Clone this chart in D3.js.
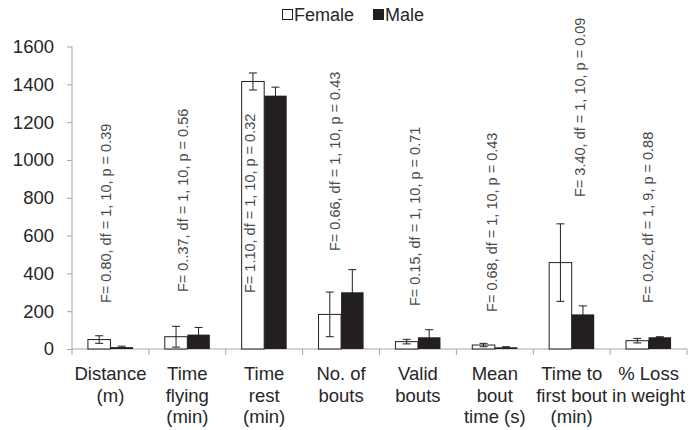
<!DOCTYPE html>
<html>
<head>
<meta charset="utf-8">
<script src="https://cdnjs.cloudflare.com/ajax/libs/d3/7.8.5/d3.min.js"></script>
<style>
  body { margin: 0; background: #fff; }
  svg text { font-family: "Liberation Sans", Arial, sans-serif; fill: #262626; }
</style>
</head>
<body>
<div id="chart"></div>
<script>
// category labels, one entry per line
var categories = [
  ["Distance", "(m)"],
  ["Time", "flying", "(min)"],
  ["Time", "rest", "(min)"],
  ["No. of", "bouts"],
  ["Valid", "bouts"],
  ["Mean", "bout", "time (s)"],
  ["Time to", "first bout", "(min)"],
  ["% Loss", "in weight"]
];
var female = [50, 65, 1415, 183, 39, 21, 457, 44];
var femaleErr = [20, 55, 45, 118, 12, 9, 205, 12];
var male = [10, 76, 1340, 300, 62, 9, 183, 62];
var maleErr = [5, 38, 45, 120, 40, 3, 45, 3];
var yTicks = [0, 200, 400, 600, 800, 1000, 1200, 1400, 1600];
var stats = [
  "F= 0.80, df = 1, 10, p = 0.39",
  "F= 0..37, df = 1, 10, p = 0.56",
  "F= 1.10, df = 1, 10, p = 0.32",
  "F= 0.66, df = 1, 10, p = 0.43",
  "F= 0.15, df = 1, 10, p = 0.71",
  "F= 0.68, df = 1, 10, p = 0.43",
  "F= 3.40, df = 1, 10, p = 0.09",
  "F= 0.02, df = 1, 9, p = 0.88"
];
// where each stats label starts (axis value) and its shift from the group centre
var statStart = [243, 301, 296, 518, 227, 196, 804, 243];
var statShift = [-5, -4, -14, -6, -3, -3, 8, -1];

var width = 697, height = 430;
var margin = {"left": 72, "right": 10, "top": 46.5, "bottom": 81};

var svg = d3.select("#chart").append("svg")
            .attr("width", width)
            .attr("height", height);

var x = d3.scaleBand()
          .domain(d3.range(categories.length))
          .range([margin.left, width - margin.right]);

var y = d3.scaleLinear()
          .domain([0, 1600])
          .range([height - margin.bottom, margin.top]);

var barW = x.bandwidth() * 0.293;

/*
// y axis: grey line, small ticks to the left
*/
var yAxis = d3.axisLeft(y).tickValues(yTicks).tickFormat(d3.format("d"))
              .tickSize(5).tickPadding(13);
var gy = svg.append("g")
            .attr("transform", "translate(" + margin.left + ",0)")
            .call(yAxis);
gy.select(".domain").attr("stroke", "#a6a6a6").attr("d", "M0," + y(1600) + "V" + y(0));
gy.selectAll(".tick line").attr("stroke", "#a6a6a6");
gy.selectAll(".tick text").style("font-size", "18.5px").attr("fill", "#262626");

/*
// x axis: baseline with ticks at the group boundaries
*/
var bounds = d3.range(categories.length + 1).map(function(i) {
  return i < categories.length ? x(i) : x.range()[1];
});
svg.append("line")
   .attr("x1", margin.left).attr("x2", width - margin.right)
   .attr("y1", y(0)).attr("y2", y(0))
   .attr("stroke", "#a6a6a6");
svg.selectAll(".xtick").data(bounds).enter().append("line")
   .attr("class", "xtick")
   .attr("x1", function(d) {return d;}).attr("x2", function(d) {return d;})
   .attr("y1", y(0)).attr("y2", y(0) + 6)
   .attr("stroke", "#a6a6a6");

var labels = svg.selectAll(".xlabel").data(categories).enter().append("text")
                .attr("class", "xlabel")
                .attr("text-anchor", "middle")
                .style("font-size", "18.5px");
labels.each(function(lines, i) {
  var t = d3.select(this);
  lines.forEach(function(s, k) {
    t.append("tspan")
     .attr("x", x(i) + x.bandwidth() / 2)
     .attr("y", y(0) + 31 + k * 21.5)
     .text(s);
  });
});

/*
// bars, female left of centre, male right of centre
*/
var g = svg.append("g");
g.selectAll(".female").data(female).enter().append("rect")
 .attr("class", "female")
 .attr("x", function(d, i) {return x(i) + x.bandwidth() / 2 - barW;})
 .attr("y", function(d) {return y(d);})
 .attr("width", barW)
 .attr("height", function(d) {return y(0) - y(d);})
 .attr("fill", "#fff")
 .attr("stroke", "#231f20")
 .attr("stroke-width", 1);

g.selectAll(".male").data(male).enter().append("rect")
 .attr("class", "male")
 .attr("x", function(d, i) {return x(i) + x.bandwidth() / 2;})
 .attr("y", function(d) {return y(d);})
 .attr("width", barW)
 .attr("height", function(d) {return y(0) - y(d);})
 .attr("fill", "#231f20");

function ErrorBars(vals, errs, dx)
{
  var items = vals.map(function(v, i) {return {i: i, lo: v - errs[i], hi: v + errs[i]};});
  var eb = g.append("g").attr("stroke", "#231f20").attr("stroke-width", 1);
  items.forEach(function(d) {
    var cx = x(d.i) + x.bandwidth() / 2 + dx;
    eb.append("line").attr("x1", cx).attr("x2", cx).attr("y1", y(d.lo)).attr("y2", y(d.hi));
    eb.append("line").attr("x1", cx - 4).attr("x2", cx + 4).attr("y1", y(d.hi)).attr("y2", y(d.hi));
    eb.append("line").attr("x1", cx - 4).attr("x2", cx + 4).attr("y1", y(d.lo)).attr("y2", y(d.lo));
  });
}
ErrorBars(female, femaleErr, -barW / 2);
ErrorBars(male, maleErr, barW / 2);

/*
// vertical test statistics
*/
svg.selectAll(".stat").data(stats).enter().append("text")
   .attr("class", "stat")
   .attr("transform", function(d, i) {
     var cx = x(i) + x.bandwidth() / 2 + statShift[i];
     return "translate(" + cx + "," + y(statStart[i]) + ") rotate(-90)";
   })
   .attr("dy", "0.35em")
   .style("font-size", "14.5px")
   .style("fill", "#4a4a4a")
   .text(function(d) {return d;});

/*
// legend
*/
var legend = svg.append("g");
legend.append("rect").attr("x", 282.5).attr("y", 9.5).attr("width", 10).attr("height", 10)
      .attr("fill", "#fff").attr("stroke", "#231f20");
legend.append("text").attr("x", 294).attr("y", 21).style("font-size", "18px").text("Female");
legend.append("rect").attr("x", 373).attr("y", 9).attr("width", 11).attr("height", 11)
      .attr("fill", "#231f20");
legend.append("text").attr("x", 385).attr("y", 21).style("font-size", "18px").text("Male");
</script>
</body>
</html>
